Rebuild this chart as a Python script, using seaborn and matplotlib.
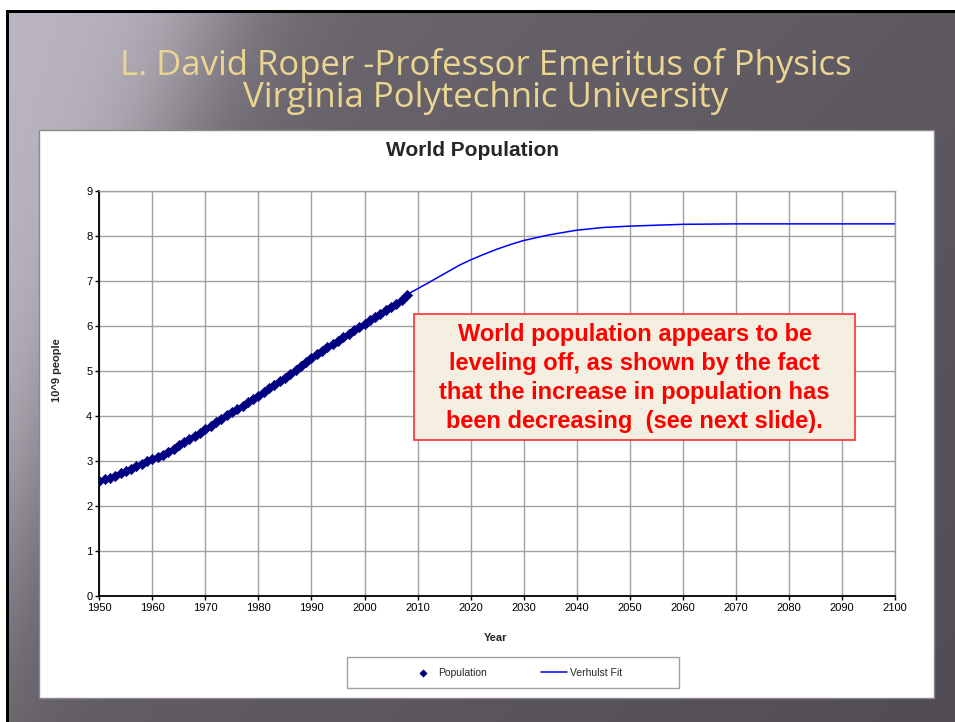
import matplotlib
matplotlib.use('Agg')
import matplotlib.pyplot as plt
import numpy as np
import pandas as pd
import seaborn as sns
from matplotlib.patches import Rectangle

# ---- data ----
years = list(range(1950, 2009))
population = [
    2.557, 2.594, 2.636, 2.682, 2.730, 2.782, 2.835, 2.891, 2.948, 2.997,
    3.043, 3.084, 3.140, 3.210, 3.281, 3.350, 3.421, 3.490, 3.562, 3.637,
    3.713, 3.790, 3.867, 3.942, 4.017, 4.089, 4.160, 4.232, 4.304, 4.379,
    4.451, 4.534, 4.615, 4.696, 4.775, 4.856, 4.941, 5.029, 5.117, 5.204,
    5.288, 5.370, 5.448, 5.526, 5.603, 5.679, 5.755, 5.830, 5.905, 5.979,
    6.054, 6.129, 6.203, 6.277, 6.351, 6.425, 6.499, 6.574, 6.690,
]

fit_years = [1950, 1960, 1970, 1980, 1990, 2000, 2008, 2010, 2012, 2015,
             2018, 2020, 2022, 2025, 2028, 2030, 2033, 2035, 2040, 2045,
             2050, 2055, 2060, 2070, 2080, 2090, 2100]
fit_values = [2.55, 3.04, 3.71, 4.45, 5.29, 6.05, 6.70, 6.83, 6.96, 7.16,
              7.36, 7.47, 7.57, 7.71, 7.83, 7.90, 7.98, 8.03, 8.13, 8.19,
              8.22, 8.24, 8.26, 8.27, 8.27, 8.27, 8.27]

x_ticks = list(range(1950, 2101, 10))
y_ticks = list(range(0, 10))

slide_title = 'L. David Roper -Professor Emeritus of Physics\nVirginia Polytechnic University'
chart_title = 'World Population'
note_text = ('World population appears to be\n'
             'leveling off, as shown by the fact\n'
             'that the increase in population has\n'
             'been decreasing  (see next slide).')

W, H = 955, 722

sns.set_theme(style='white')
plt.rcParams['font.family'] = ['Liberation Sans', 'DejaVu Sans']


def fx(px):
    return px / W


def fy(py):
    return 1 - py / H


def slide_background():
    xx, yy = np.meshgrid(np.linspace(0, 1, W), np.linspace(0, 1, H))
    u = xx + 0.3 * yy
    light = np.array([186, 181, 190]) / 255.0
    dark = np.array([112, 107, 115]) / 255.0
    w = 1 / (1 + np.exp(-(0.22 - u) / 0.04))
    img = dark[None, None, :] + (light - dark)[None, None, :] * w[..., None]
    img = img - (0.07 * xx)[..., None]
    img = img - (0.05 * yy * (1 - w))[..., None]
    return np.clip(img, 0, 1)


fig = plt.figure(figsize=(W / 100, H / 100), dpi=100)
fig.patch.set_facecolor('white')

bg = fig.add_axes([fx(8), 0, 1 - fx(8), fy(13)])
bg.imshow(slide_background(), aspect='auto', extent=(0, 1, 0, 1))
bg.set_axis_off()

# black slide border (top and left)
fig.patches.append(Rectangle((fx(6), 0), fx(2.5), fy(10), transform=fig.transFigure,
                             facecolor='black', edgecolor='none', zorder=1))
fig.patches.append(Rectangle((fx(6), fy(13)), 1, fy(10) - fy(13), transform=fig.transFigure,
                             facecolor='black', edgecolor='none', zorder=1))

fig.text(fx(486), fy(81.5), slide_title, ha='center', va='center', fontsize=25,
         family='Open Sans', color='#EAD690', linespacing=0.93, zorder=3)

# white chart panel
fig.patches.append(Rectangle((fx(38.5), fy(697.5)), fx(934 - 38.5), fy(130) - fy(697.5),
                             transform=fig.transFigure, facecolor='white',
                             edgecolor='#8a8a8a', linewidth=1, zorder=2))

ax = fig.add_axes([fx(99.3), fy(596.3), fx(895 - 99.3), fy(191) - fy(596.3)], zorder=4)
ax.set_facecolor('white')

pop_df = pd.DataFrame({'Year': years, 'Population': population})
fit_df = pd.DataFrame({'Year': fit_years, 'Fit': fit_values})

sns.lineplot(data=fit_df, x='Year', y='Fit', ax=ax, color='#0000FF',
             linewidth=1.1, label='Verhulst Fit', zorder=3)
sns.scatterplot(data=pop_df, x='Year', y='Population', ax=ax, marker='D',
                s=27, color='#000080', edgecolor='#000080', linewidth=0.5,
                label='Population', zorder=4)

ax.set_xlim(1950, 2100)
ax.set_ylim(0, 9)
ax.set_xticks(x_ticks)
ax.set_yticks(y_ticks)
ax.grid(True, color='#a0a0a0', linewidth=1)
ax.set_axisbelow(True)
for side in ['top', 'right']:
    ax.spines[side].set_color('#a0a0a0')
    ax.spines[side].set_linewidth(1)
for side in ['left', 'bottom']:
    ax.spines[side].set_color('black')
    ax.spines[side].set_linewidth(1.3)
ax.tick_params(axis='both', labelsize=8, length=3, width=1, colors='black',
               direction='out', pad=2)
ax.tick_params(bottom=True, left=True)
ax.set_xlabel('')
ax.set_ylabel('')
ax.get_legend().remove()

fig.text(fx(472), fy(150), chart_title, ha='center', va='center',
         fontsize=15, fontweight='bold', zorder=5)
fig.text(fx(496), fy(638), 'Year', ha='center', va='center',
         fontsize=8, fontweight='bold', zorder=5)
fig.text(fx(57), fy(370), '10^9 people', ha='center', va='center',
         rotation=90, fontsize=8, fontweight='bold', zorder=5)

# legend box
fig.patches.append(Rectangle((fx(346.7), fy(688)), fx(679.3 - 346.7), fy(657) - fy(688),
                             transform=fig.transFigure, facecolor='white',
                             edgecolor='#a0a0a0', linewidth=1, zorder=5))
handles, labels = ax.get_legend_handles_labels()
order = [labels.index('Population'), labels.index('Verhulst Fit')]
leg = fig.legend([handles[i] for i in order], [labels[i] for i in order],
                 loc='center', bbox_to_anchor=(fx(516), fy(672.5)), ncol=2,
                 frameon=False, fontsize=7.5, handlelength=2.5,
                 handletextpad=0.2, columnspacing=5.2, markerscale=0.7)
leg.set_zorder(6)

# annotation box
fig.patches.append(Rectangle((fx(414), fy(440)), fx(855 - 414), fy(314) - fy(440),
                             transform=fig.transFigure, facecolor='#F4EFE0',
                             edgecolor='#FF3030', linewidth=1.2, zorder=7))
fig.text(fx(634.5), fy(378), note_text, ha='center', va='center', fontsize=17,
         fontweight='bold', color='#FF0000', linespacing=1.32, zorder=8)

fig.savefig('out.png', dpi=100)
